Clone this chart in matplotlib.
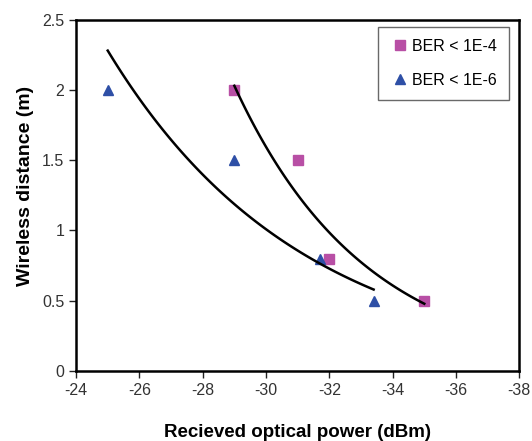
import matplotlib
matplotlib.use("Agg")
import matplotlib.pyplot as plt
import numpy as np

plt.rcParams['font.family'] = ['Liberation Sans', 'DejaVu Sans']
plt.rcParams['axes.unicode_minus'] = False

power_1e4 = [-29, -31, -32, -35]
dist_1e4 = [2.0, 1.5, 0.8, 0.5]

power_1e6 = [-25, -29, -31.7, -33.4]
dist_1e6 = [2.0, 1.5, 0.8, 0.5]

xticks = [-24, -26, -28, -30, -32, -34, -36, -38]
yticks = [0, 0.5, 1, 1.5, 2, 2.5]
yticklabels = ['0', '0.5', '1', '1.5', '2', '2.5']


def expfit(x, y):
    # excel style exponential trendline
    x = np.array(x)
    b, a = np.polyfit(x, np.log(y), 1)
    xs = np.linspace(x.min(), x.max(), 100)
    return xs, np.exp(a + b * xs)


fig = plt.figure(figsize=(5.32, 4.41), dpi=100)
ax = fig.add_axes([0.143, 0.159, 0.833, 0.796])

ax.plot(power_1e4, dist_1e4, 's', color='#B84FA5', markersize=6.5, label='BER < 1E-4')
ax.plot(power_1e6, dist_1e6, '^', color='#2E4FA6', markersize=7, label='BER < 1E-6')

xs, ys = expfit(power_1e6, dist_1e6)
ax.plot(xs, ys, '-', color='black', lw=1.8)
xs, ys = expfit(power_1e4, dist_1e4)
ax.plot(xs, ys, '-', color='black', lw=1.8)

ax.set_xlim(-24, -38)
ax.set_ylim(0, 2.5)
ax.set_xticks(xticks)
ax.set_yticks(yticks)
ax.set_yticklabels(yticklabels)
ax.tick_params(direction='out', length=5, width=1, labelsize=11.5, colors='#222222', labelcolor='#333333')
for s in ax.spines.values():
    s.set_linewidth(1.8)

ax.set_xlabel('Recieved optical power (dBm)', fontsize=13.5, fontweight='bold', labelpad=19)
ax.set_ylabel('Wireless distance (m)', fontsize=14, fontweight='bold')
ax.yaxis.set_label_coords(-0.095, 0.527)

leg = ax.legend(loc='upper right', bbox_to_anchor=(0.977, 0.98), fontsize=11.5,
                frameon=True, fancybox=False, handlelength=1.3, handletextpad=0.1,
                labelspacing=1.2, borderpad=0.75, borderaxespad=0)
leg.get_frame().set_edgecolor('#444444')
leg.get_frame().set_linewidth(1)

fig.savefig('out.png', dpi=100)
